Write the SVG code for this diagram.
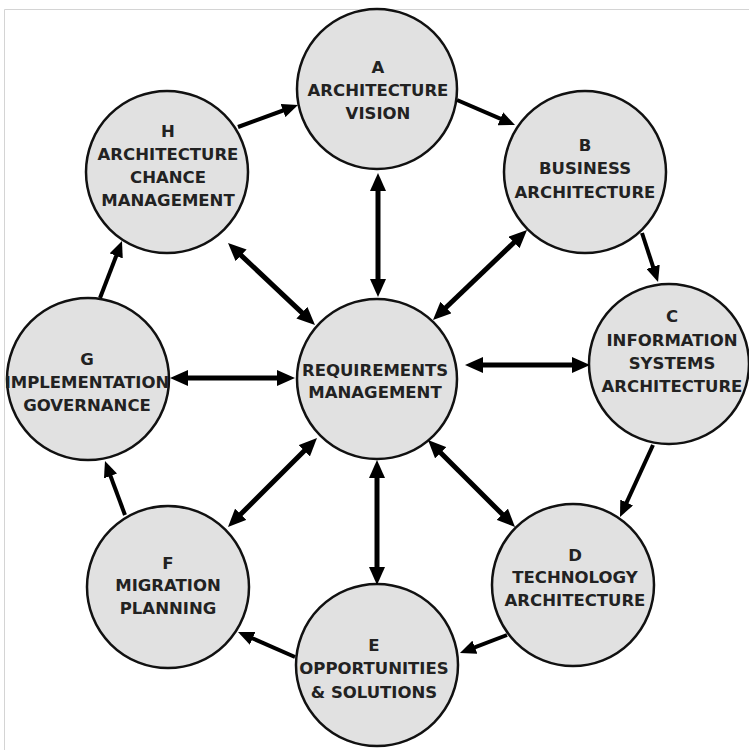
<svg xmlns="http://www.w3.org/2000/svg" width="749" height="750" viewBox="0 0 749 750">
<defs>
<style>
.node circle{fill:#e1e1e1;stroke:#111;stroke-width:2.5}
.node text{font-family:"DejaVu Sans","Liberation Sans",sans-serif;font-weight:bold;font-size:16.5px;fill:#222;text-anchor:middle}
.dbl{stroke:#000;stroke-width:5;fill:none;marker-start:url(#hd);marker-end:url(#hd)}
.one{stroke:#000;stroke-width:4;fill:none;marker-end:url(#hs)}
</style>
<marker id="hd" markerUnits="userSpaceOnUse" markerWidth="18" markerHeight="16" refX="4" refY="8" orient="auto-start-reverse" viewBox="0 0 18 16"><path d="M0,0 L18,8 L0,16 z" fill="#000"/></marker>
<marker id="hs" markerUnits="userSpaceOnUse" markerWidth="16" markerHeight="14" refX="3" refY="7" orient="auto" viewBox="0 0 16 14"><path d="M0,0 L16,7 L0,14 z" fill="#000"/></marker>
</defs>
<rect width="749" height="750" fill="#fff"/>
<path d="M4.5,750 V9.5 H749" fill="none" stroke="#d4d4d4" stroke-width="1"/>
<g id="nodes">
<g id="A" class="node"><circle cx="377" cy="89" r="80"/><text x="378" y="73">A</text><text x="378" y="96">ARCHITECTURE</text><text x="378" y="119">VISION</text></g>
<g id="B" class="node"><circle cx="585" cy="172" r="81"/><text x="585" y="151">B</text><text x="585" y="174">BUSINESS</text><text x="585" y="198">ARCHITECTURE</text></g>
<g id="C" class="node"><circle cx="669" cy="364" r="80"/><text x="672" y="322">C</text><text x="672" y="346">INFORMATION</text><text x="672" y="369">SYSTEMS</text><text x="672" y="392">ARCHITECTURE</text></g>
<g id="D" class="node"><circle cx="573" cy="585" r="81"/><text x="575" y="561">D</text><text x="575" y="583">TECHNOLOGY</text><text x="575" y="606">ARCHITECTURE</text></g>
<g id="E" class="node"><circle cx="377" cy="665" r="81"/><text x="374" y="651">E</text><text x="374" y="674">OPPORTUNITIES</text><text x="374" y="698">&amp; SOLUTIONS</text></g>
<g id="F" class="node"><circle cx="168" cy="587" r="81"/><text x="168" y="569">F</text><text x="168" y="591">MIGRATION</text><text x="168" y="614">PLANNING</text></g>
<g id="G" class="node"><circle cx="88" cy="379" r="81"/><text x="87" y="365">G</text><text x="87" y="388">IMPLEMENTATION</text><text x="87" y="411">GOVERNANCE</text></g>
<g id="H" class="node"><circle cx="167" cy="172" r="81"/><text x="168" y="137">H</text><text x="168" y="160">ARCHITECTURE</text><text x="168" y="183">CHANCE</text><text x="168" y="206">MANAGEMENT</text></g>
<g id="REQ" class="node"><circle cx="377" cy="379" r="80"/><text x="375" y="376">REQUIREMENTS</text><text x="375" y="398">MANAGEMENT</text></g>
</g>
<g id="connectors">
<line class="dbl" x1="378" y1="283" x2="378" y2="187"/>
<line class="dbl" x1="443.1" y1="310.3" x2="516.9" y2="239.7"/>
<line class="dbl" x1="479" y1="365" x2="576" y2="365"/>
<line class="dbl" x1="437.9" y1="449.9" x2="505.1" y2="517.1"/>
<line class="dbl" x1="377" y1="474" x2="377" y2="571"/>
<line class="dbl" x1="307.1" y1="447.9" x2="237.9" y2="517.1"/>
<line class="dbl" x1="281" y1="378" x2="184" y2="378"/>
<line class="dbl" x1="304.8" y1="315.4" x2="238.2" y2="252.6"/>
<line class="one" x1="238" y1="127" x2="285.8" y2="109.5"/>
<line class="one" x1="457" y1="100" x2="503.1" y2="119.9"/>
<line class="one" x1="642" y1="233" x2="654" y2="269.6"/>
<line class="one" x1="653" y1="445" x2="625.4" y2="505.2"/>
<line class="one" x1="507" y1="635" x2="472.1" y2="648.3"/>
<line class="one" x1="295" y1="657" x2="249.9" y2="637.2"/>
<line class="one" x1="125" y1="515" x2="109.5" y2="473.2"/>
<line class="one" x1="100" y1="298" x2="117.3" y2="253.1"/>
</g>
</svg>
